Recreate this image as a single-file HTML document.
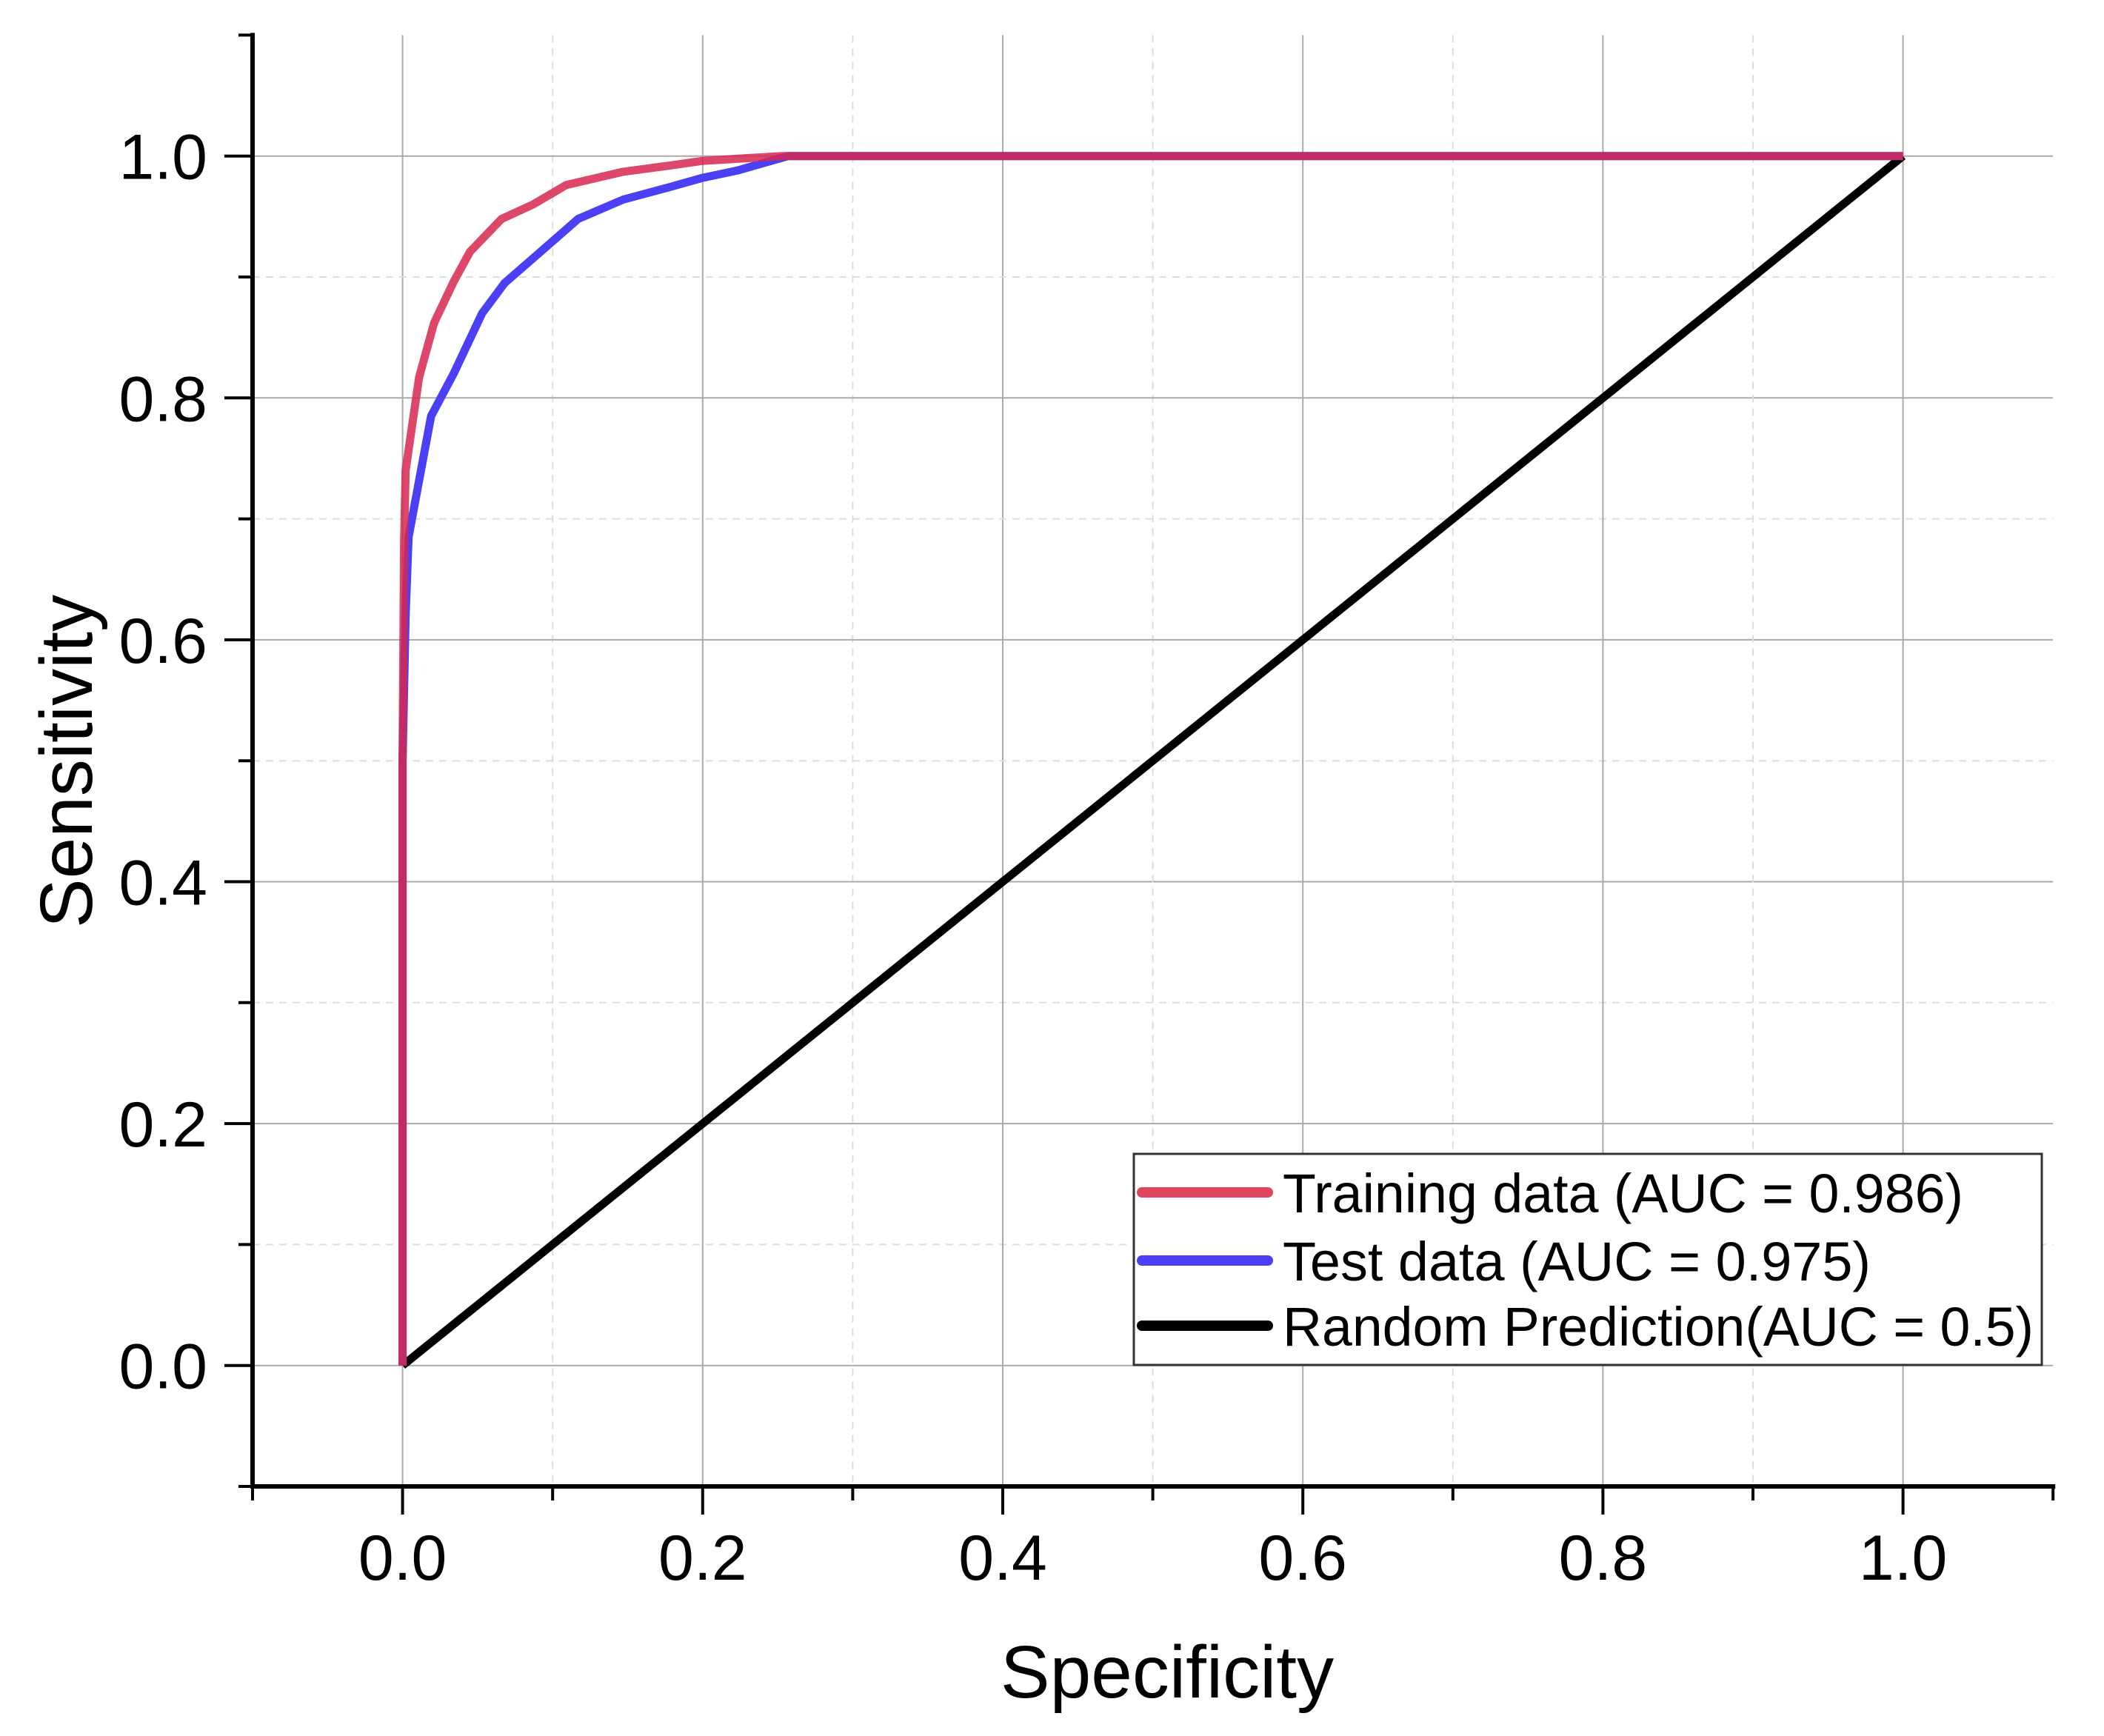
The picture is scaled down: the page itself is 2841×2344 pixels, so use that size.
<!DOCTYPE html>
<html><head><meta charset="utf-8"><style>html,body{margin:0;padding:0;background:#fff;}svg{display:block;}</style></head>
<body>
<svg id="chart" width="2841" height="2344" viewBox="0 0 2841 2344" xmlns="http://www.w3.org/2000/svg" font-family="'Liberation Sans', sans-serif">
<g id="grid"></g>
<g id="series"></g>
<g id="axes"></g>
<g id="legend"></g>
</svg>
<script>
const xTicks = [0, 0.2, 0.4, 0.6, 0.8, 1.0];
const yTicks = [0, 0.2, 0.4, 0.6, 0.8, 1.0];
const tickLabels = ["0.0", "0.2", "0.4", "0.6", "0.8", "1.0"];
const trainX = [0, 0.0, 0.001, 0.002, 0.011, 0.021, 0.034, 0.045, 0.066, 0.087, 0.109, 0.147, 0.177, 0.20, 0.253, 1.0];
const trainY = [0, 0.5, 0.68, 0.74, 0.817, 0.862, 0.896, 0.921, 0.948, 0.960, 0.976, 0.987, 0.992, 0.996, 1.0, 1.0];
const testX = [0, 0.0, 0.002, 0.004, 0.019, 0.034, 0.053, 0.068, 0.094, 0.117, 0.147, 0.177, 0.20, 0.223, 0.257, 1.0];
const testY = [0, 0.5, 0.62, 0.685, 0.785, 0.82, 0.870, 0.895, 0.923, 0.948, 0.964, 0.974, 0.982, 0.988, 1.0, 1.0];
const randX = [0, 1];
const randY = [0, 1];
const legendLabels = ["Training data (AUC = 0.986)", "Test data (AUC = 0.975)", "Random Prediction(AUC = 0.5)"];

const NS = "http://www.w3.org/2000/svg";
const X0 = 543.6, XS = 2026, Y0 = 1843.7, YS = 1633;
const xs = v => X0 + v * XS;
const ys = v => Y0 - v * YS;
const plotLeft = xs(-0.1), plotRight = xs(1.1), plotTop = ys(1.1), plotBottom = ys(-0.1);
function mk(tag, attrs, parent) {
  const e = document.createElementNS(NS, tag);
  for (const k in attrs) e.setAttribute(k, attrs[k]);
  parent.appendChild(e);
  return e;
}
const gridG = document.getElementById('grid');
const axesG = document.getElementById('axes');
const seriesG = document.getElementById('series');
const legendG = document.getElementById('legend');

for (let i = 0; i <= 10; i++) {
  const v = i / 10;
  const major = i % 2 === 0;
  const st = major ? {stroke: '#aaa', 'stroke-width': 2} : {stroke: '#ddd', 'stroke-width': 2, 'stroke-dasharray': '10 8'};
  const gx = mk('line', Object.assign({x1: xs(v), x2: xs(v), y1: plotTop, y2: plotBottom}, st), gridG);
  
  
  const gy = mk('line', Object.assign({x1: plotLeft, x2: plotRight, y1: ys(v), y2: ys(v)}, st), gridG);
  
  
}

function drawLine(xsArr, ysArr, color, name) {
  const pts = xsArr.map((x, i) => xs(x).toFixed(1) + ',' + ys(ysArr[i]).toFixed(1)).join(' ');
  const p = mk('polyline', {points: pts, fill: 'none', stroke: color, 'stroke-width': 11, 'stroke-linejoin': 'round'}, seriesG);
  
  
}
drawLine(randX, randY, '#000', 'random-prediction-line');
drawLine(testX, testY, '#4b40f5', 'test-data-line');
drawLine(trainX, trainY, 'rgba(215,40,80,0.85)', 'training-data-line');

const ya = mk('line', {x1: plotLeft, x2: plotLeft, y1: plotTop - 3, y2: plotBottom + 3, stroke: '#000', 'stroke-width': 6}, axesG);


const xa = mk('line', {x1: plotLeft - 3, x2: plotRight + 3, y1: plotBottom, y2: plotBottom, stroke: '#000', 'stroke-width': 6}, axesG);


for (let i = -1; i <= 11; i++) {
  const v = i / 10;
  const major = i % 2 === 0;
  const len = major ? 38 : 19;
  const tx = mk('line', {x1: xs(v), x2: xs(v), y1: plotBottom, y2: plotBottom + len, stroke: '#000', 'stroke-width': 4}, axesG);
  
  
  const ty = mk('line', {x1: plotLeft, x2: plotLeft - len, y1: ys(v), y2: ys(v), stroke: '#000', 'stroke-width': 4}, axesG);
  
  
}
xTicks.forEach((v, i) => {
  const t = mk('text', {x: xs(v), y: 2133, 'font-size': 86, 'text-anchor': 'middle', fill: '#000'}, axesG);
  t.textContent = tickLabels[i];
  
  
});
yTicks.forEach((v, i) => {
  const t = mk('text', {x: 280, y: ys(v) + 31, 'font-size': 86, 'text-anchor': 'end', fill: '#000'}, axesG);
  t.textContent = tickLabels[i];
  
  
});
const xt = mk('text', {x: 1576, y: 2292, 'font-size': 100, 'text-anchor': 'middle', fill: '#000'}, axesG);
xt.textContent = 'Specificity';


const yt = mk('text', {x: 0, y: 0, 'font-size': 100, 'text-anchor': 'middle', fill: '#000', transform: 'translate(124,1028) rotate(-90)'}, axesG);
yt.textContent = 'Sensitivity';



const lb = mk('rect', {x: 1531, y: 1558, width: 1226, height: 285, fill: '#fff', stroke: '#333', 'stroke-width': 3}, legendG);


const legColors = ['#e0445f', '#4b40f5', '#000'];
const legY = [1610, 1702, 1790];
const legW = [919, 794, 1014];
legendLabels.forEach((lab, i) => {
  const g = mk('g', {}, legendG);
  
  
  mk('line', {x1: 1542, x2: 1712, y1: legY[i], y2: legY[i], stroke: legColors[i], 'stroke-width': 14, 'stroke-linecap': 'round'}, g);
  const t = mk('text', {x: 1732, y: legY[i] + 27, 'font-size': 74, fill: '#000', textLength: legW[i], lengthAdjust: 'spacingAndGlyphs'}, g);
  t.textContent = lab;
});
</script>
</body></html>
